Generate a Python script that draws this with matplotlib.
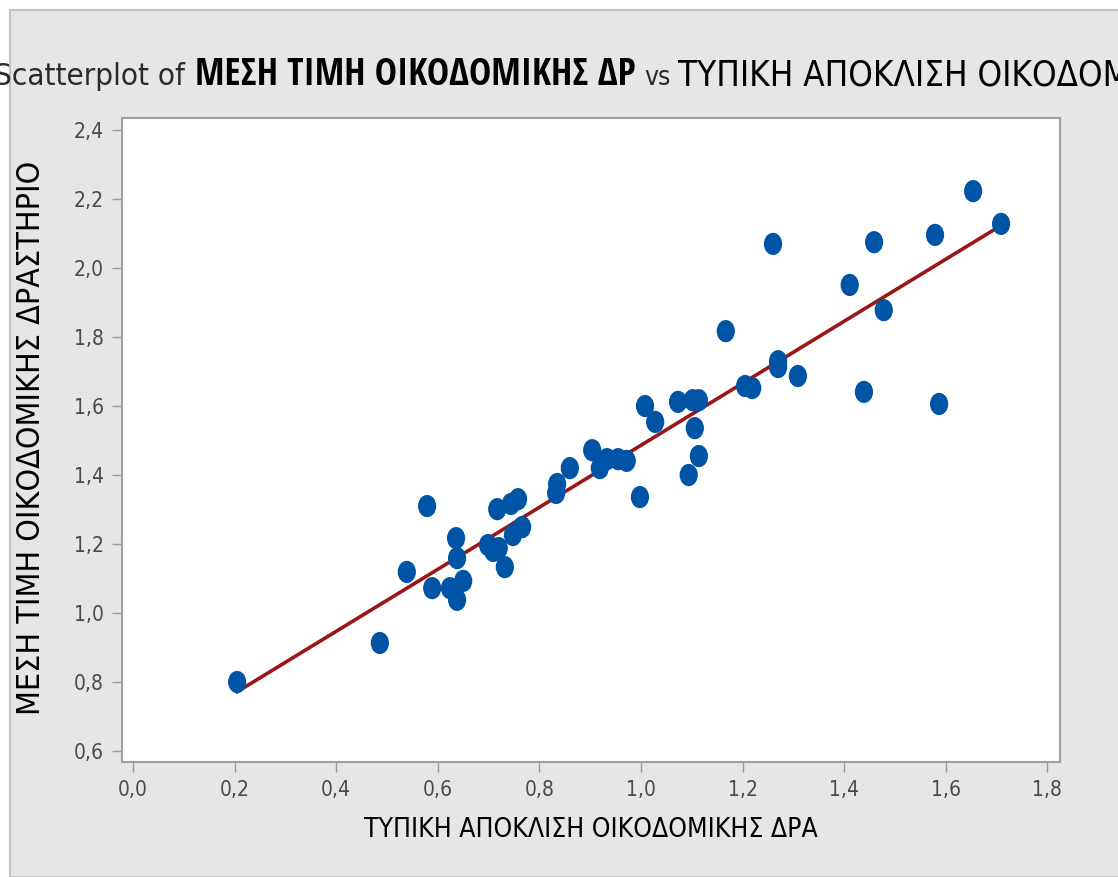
import matplotlib
matplotlib.use("Agg")
import matplotlib.pyplot as plt
from matplotlib.patches import Rectangle
from matplotlib.path import Path
from matplotlib.transforms import Affine2D
import numpy as np

### Data ###
std_dev = [0.205, 0.486, 0.539, 0.579, 0.589, 0.624, 0.636, 0.638, 0.638, 0.650,
           0.699, 0.709, 0.720, 0.732, 0.717, 0.744, 0.758, 0.748, 0.766, 0.833,
           0.835, 0.860, 0.904, 0.919, 0.933, 0.955, 0.972, 0.998, 1.008, 1.028,
           1.073, 1.094, 1.102, 1.114, 1.106, 1.114, 1.167, 1.205, 1.219, 1.260,
           1.270, 1.270, 1.309, 1.411, 1.439, 1.459, 1.478, 1.579, 1.587, 1.654,
           1.709]
mean_val = [0.800, 0.913, 1.119, 1.310, 1.072, 1.072, 1.217, 1.159, 1.038, 1.093,
            1.197, 1.180, 1.188, 1.133, 1.301, 1.316, 1.330, 1.226, 1.249, 1.348,
            1.374, 1.420, 1.472, 1.420, 1.446, 1.446, 1.441, 1.336, 1.600, 1.554,
            1.612, 1.400, 1.617, 1.617, 1.536, 1.455, 1.817, 1.658, 1.652, 2.070,
            1.730, 1.713, 1.687, 1.951, 1.641, 2.075, 1.878, 2.096, 1.606, 2.223,
            2.128]

x_ticks = [0.0, 0.2, 0.4, 0.6, 0.8, 1.0, 1.2, 1.4, 1.6, 1.8]
y_ticks = [0.6, 0.8, 1.0, 1.2, 1.4, 1.6, 1.8, 2.0, 2.2, 2.4]
x_ticklabels = ["0,0", "0,2", "0,4", "0,6", "0,8", "1,0", "1,2", "1,4", "1,6", "1,8"]
y_ticklabels = ["0,6", "0,8", "1,0", "1,2", "1,4", "1,6", "1,8", "2,0", "2,2", "2,4"]

x_label = "ΤΥΠΙΚΗ ΑΠΟΚΛΙΣΗ ΟΙΚΟΔΟΜΙΚΗΣ ΔΡΑ"
y_label = "ΜΕΣΗ ΤΙΜΗ ΟΙΚΟΔΟΜΙΚΗΣ ΔΡΑΣΤΗΡΙΟ"
title_parts = ["Scatterplot of", "ΜΕΣΗ ΤΙΜΗ ΟΙΚΟΔΟΜΙΚΗΣ ΔΡ", "vs",
               "ΤΥΠΙΚΗ ΑΠΟΚΛΙΣΗ ΟΙΚΟΔΟΜΙΚΗΣ ΔΡΑ"]

### Style ###
plt.rcParams['font.family'] = ['DejaVu Sans']
cond_bold = ['Open Sans Condensed', 'DejaVu Sans']
W, H = 1118, 877
bg = "#e6e6e6"
dot_blue = "#0054a6"
fit_red = "#9b1717"

# slightly tall ellipse marker, like the original dots
ellipse = Affine2D().scale(0.82, 1.0).transform_path(Path.unit_circle())

fig = plt.figure(figsize=(W / 100, H / 100), dpi=100, facecolor="white")
# gray graph window, offset 10 px from top/left like the screenshot
fig.patches.append(Rectangle((10 / W, 0), 1.2, 1 - 10 / H, transform=fig.transFigure,
                             facecolor=bg, edgecolor="#c4c4c4", linewidth=1.5, zorder=-5))

ax = fig.add_axes([122 / W, 1 - 762 / H, 938 / W, 644 / H])
ax.set_facecolor("white")

ax.scatter(std_dev, mean_val, s=16 ** 2, marker=ellipse, color=dot_blue,
           edgecolors="none", zorder=3)

# least squares fit line across the data range
slope, intercept = np.polyfit(std_dev, mean_val, 1)
xs = np.array([min(std_dev), max(std_dev)])
ax.plot(xs, slope * xs + intercept, color=fit_red, linewidth=2.6, zorder=2)

ax.set_xlim(-0.0217, 1.825)
ax.set_ylim(0.568, 2.435)
ax.set_xticks(x_ticks)
ax.set_xticklabels(x_ticklabels)
ax.set_yticks(y_ticks)
ax.set_yticklabels(y_ticklabels)
ax.tick_params(axis="both", direction="out", length=7, width=1, color="#9a9a9a",
               labelcolor="#4a4a4a", labelsize=15, pad=6)
for lab in ax.get_xticklabels() + ax.get_yticklabels():
    lab.set_fontstretch("condensed")
for sp in ax.spines.values():
    sp.set_color("#a0a0a0")
    sp.set_linewidth(1.5)

fig.text(32 / W, 1 - 438 / H, y_label, rotation=90, ha="center", va="center",
         fontsize=23, color="black", fontstretch="condensed")
fig.text(591 / W, 1 - 830 / H, x_label, ha="center", va="center",
         fontsize=19, color="black", fontstretch="condensed")

# title in four pieces with different weights, overflowing the window like the original
ty = 1 - 85 / H
fig.text(185 / W, ty, title_parts[0], ha="right", va="baseline", fontsize=22.5,
         color="#2a2a2a", fontstretch="condensed")
fig.text(195 / W, ty, title_parts[1], ha="left", va="baseline", fontsize=27,
         fontweight="bold", color="black", family=cond_bold)
fig.text(644 / W, ty, title_parts[2], ha="left", va="baseline", fontsize=19,
         color="#2a2a2a", fontstretch="condensed")
fig.text(678 / W, ty, title_parts[3], ha="left", va="baseline", fontsize=25,
         color="black", fontstretch="condensed")

fig.savefig("out.png", dpi=100, facecolor=fig.get_facecolor())
